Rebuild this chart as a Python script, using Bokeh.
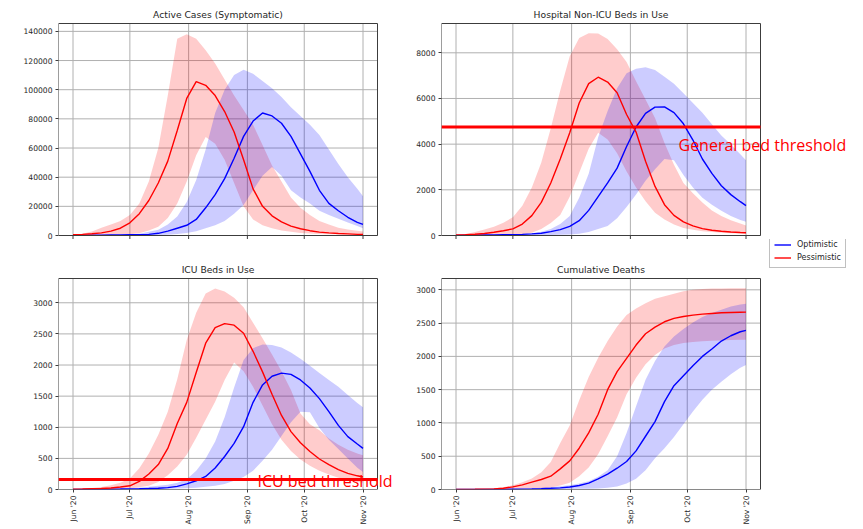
import math
import pandas as pd
from bokeh.plotting import figure
from bokeh.layouts import column, row
from bokeh.models import (Range1d, FixedTicker, DatetimeTickFormatter, BasicTickFormatter,
                          Label, Legend, LegendItem)
from bokeh.embed import file_html
from bokeh.resources import INLINE

# ---------------- data ----------------
start_date = "2020-06-01"
days = [0, 5, 10, 15, 20, 25, 30, 35, 40, 45, 50, 55, 60, 65, 70, 75, 80, 85, 90, 95,
        100, 105, 110, 115, 120, 125, 130, 135, 140, 145, 150, 153]

month_ticks = ["2020-06-01", "2020-07-01", "2020-08-01", "2020-09-01", "2020-10-01", "2020-11-01"]
month_labels = ["Jun '20", "Jul '20", "Aug '20", "Sep '20", "Oct '20", "Nov '20"]

# Active cases (symptomatic)
act_pes_med = [500, 800, 1200, 1800, 3000, 5000, 8700, 15000, 24000, 36000, 51000, 72000, 94000, 105500, 103000, 96000,
               85000, 71000, 52000, 32000, 20000, 13500, 9300, 6400, 4600, 3300, 2300, 1800, 1400, 1100, 800, 700]
act_pes_hi = [300, 1200, 2800, 5400, 7500, 10000, 14000, 22000, 37000, 60000, 96000, 135000, 138000, 135000, 127000, 118000,
              107000, 96000, 86000, 76000, 62000, 48000, 37000, 26000, 19000, 14000, 10000, 7500, 5300, 4200, 3300, 2800]
act_pes_lo = [0, 100, 200, 300, 400, 600, 800, 1500, 3500, 6000, 12000, 22000, 37000, 55000, 67500, 63000,
              52000, 36000, 20000, 11000, 7000, 5000, 3500, 2500, 1800, 1400, 1100, 900, 800, 700, 600, 500]
act_opt_med = [100, 100, 200, 200, 300, 400, 500, 600, 800, 1500, 3000, 5000, 7000, 11000, 19000, 28000,
               39000, 53000, 68000, 78500, 84000, 82000, 77000, 68000, 56000, 44000, 31000, 22000, 17000, 12500, 9000, 7600]
act_opt_hi = [100, 200, 300, 400, 500, 600, 700, 1200, 2500, 4000, 7600, 13000, 23000, 38000, 59000, 84000,
              100000, 110000, 113600, 111000, 106000, 101000, 95000, 88000, 82000, 76000, 69000, 59000, 49000, 40000, 32000, 27000]
act_opt_lo = [0, 0, 0, 0, 0, 100, 100, 200, 300, 400, 500, 1000, 1800, 3000, 5000, 7000,
              10000, 15000, 21000, 31000, 41000, 47000, 41000, 31000, 26000, 22000, 17000, 14000, 11500, 9000, 6500, 5000]

# Hospital non-ICU beds
hosp_pes_med = [20, 35, 55, 90, 140, 210, 290, 500, 870, 1450, 2300, 3350, 4500, 5800, 6650, 6930,
                6720, 6250, 5300, 4530, 3250, 2150, 1350, 880, 600, 420, 300, 230, 185, 155, 130, 120]
hosp_pes_hi = [20, 60, 150, 260, 380, 560, 800, 1300, 2100, 3200, 4700, 6350, 7850, 8650, 8860, 8840,
               8600, 8150, 7600, 6750, 5950, 5150, 4050, 3100, 2300, 1850, 1450, 1100, 850, 670, 520, 440]
hosp_pes_lo = [10, 15, 20, 25, 30, 30, 30, 60, 120, 280, 550, 900, 1700, 2750, 3800, 4500,
               4200, 3600, 2800, 2100, 1500, 1000, 700, 480, 330, 250, 190, 150, 120, 100, 90, 80]
hosp_opt_med = [5, 10, 15, 20, 25, 30, 35, 50, 70, 100, 170, 260, 400, 650, 1100, 1700,
                2300, 2950, 3900, 4750, 5350, 5620, 5630, 5380, 4890, 4180, 3350, 2720, 2180, 1790, 1480, 1310]
hosp_opt_hi = [5, 10, 15, 20, 25, 30, 35, 60, 100, 160, 280, 500, 850, 1650, 2700, 4300,
               5450, 6450, 7100, 7300, 7370, 7250, 6950, 6650, 6230, 5800, 5380, 4870, 4380, 3990, 3560, 3300]
hosp_opt_lo = [5, 5, 5, 5, 5, 5, 10, 10, 15, 20, 25, 30, 40, 80, 150, 280,
               420, 750, 1250, 1800, 2400, 2900, 3350, 3300, 2650, 2100, 1650, 1350, 1080, 850, 680, 600]

# ICU beds
icu_pes_med = [5, 8, 12, 16, 25, 40, 60, 130, 250, 400, 660, 1060, 1400, 1880, 2350, 2600,
               2665, 2640, 2510, 2220, 1890, 1530, 1190, 930, 750, 610, 490, 400, 320, 260, 220, 200]
icu_pes_hi = [10, 15, 25, 40, 70, 110, 175, 340, 580, 880, 1250, 1770, 2400, 2840, 3150, 3230,
              3180, 3080, 2930, 2680, 2430, 2170, 1900, 1600, 1220, 1050, 950, 820, 720, 640, 580, 550]
icu_pes_lo = [2, 3, 5, 8, 10, 12, 16, 35, 60, 120, 230, 370, 560, 830, 1120, 1410,
              1760, 2040, 1900, 1650, 1350, 1050, 800, 620, 480, 380, 300, 240, 190, 150, 120, 110]
icu_opt_med = [2, 2, 3, 4, 5, 7, 10, 12, 15, 20, 30, 50, 90, 140, 210, 345,
               530, 740, 1010, 1400, 1680, 1820, 1870, 1850, 1760, 1630, 1460, 1250, 1030, 850, 730, 660]
icu_opt_hi = [2, 3, 5, 7, 10, 15, 20, 30, 45, 60, 75, 110, 165, 300, 500, 770,
              1160, 1640, 2080, 2270, 2330, 2320, 2280, 2200, 2100, 1990, 1870, 1760, 1650, 1520, 1390, 1320]
icu_opt_lo = [0, 0, 1, 1, 2, 3, 4, 6, 8, 10, 13, 16, 20, 30, 45, 60,
              90, 140, 200, 300, 460, 640, 860, 1080, 1250, 1240, 990, 800, 650, 500, 350, 280]

# Cumulative deaths
dth_pes_med = [0, 1, 3, 6, 10, 18, 40, 70, 110, 150, 200, 310, 430, 620, 850, 1130,
               1500, 1770, 1970, 2170, 2340, 2440, 2520, 2570, 2600, 2620, 2635, 2645, 2655, 2660, 2663, 2665]
dth_pes_hi = [0, 2, 5, 10, 18, 35, 65, 110, 165, 260, 415, 700, 960, 1340, 1690, 1980,
              2230, 2450, 2620, 2720, 2800, 2865, 2905, 2940, 2980, 3000, 3012, 3018, 3020, 3022, 3024, 3025]
dth_pes_lo = [0, 0, 1, 2, 3, 5, 8, 10, 15, 20, 30, 60, 100, 200, 330, 530,
              800, 1080, 1430, 1680, 1880, 2020, 2120, 2170, 2200, 2215, 2228, 2235, 2240, 2245, 2248, 2250]
dth_opt_med = [0, 0, 0, 1, 1, 2, 4, 6, 9, 13, 18, 25, 38, 60, 95, 160,
               230, 320, 420, 580, 800, 1020, 1320, 1560, 1710, 1860, 2000, 2110, 2230, 2310, 2370, 2390]
dth_opt_hi = [0, 0, 1, 2, 3, 5, 8, 12, 17, 25, 35, 48, 65, 90, 125, 190,
              290, 500, 850, 1250, 1650, 1930, 2150, 2300, 2410, 2510, 2590, 2650, 2700, 2750, 2780, 2790]
dth_opt_lo = [0, 0, 0, 0, 0, 1, 1, 2, 3, 4, 5, 6, 8, 10, 13, 16,
              25, 45, 90, 160, 290, 470, 620, 790, 980, 1170, 1350, 1500, 1620, 1730, 1830, 1870]

act_ticks = [0, 20000, 40000, 60000, 80000, 100000, 120000, 140000]
hosp_ticks = [0, 2000, 4000, 6000, 8000]
icu_ticks = [0, 500, 1000, 1500, 2000, 2500, 3000]
dth_ticks = [0, 500, 1000, 1500, 2000, 2500, 3000]

general_bed_threshold = 4750
icu_bed_threshold = 160

# ---------------- layout / style constants ----------------
x = pd.to_datetime(start_date) + pd.to_timedelta(days, unit="D")
x_margin = pd.Timedelta(days=7.65)
x_start = x[0] - x_margin
x_end = x[-1] + x_margin
tick_dates = pd.to_datetime(month_ticks)
tick_ms = [int(t.value // 10**6) for t in tick_dates]

FONT = "DejaVu Sans"
TICK_SIZE = "7.6px"
TXT = "#262626"
GRID = "#b0b0b0"
EDGE = "#3c3c3c"
TICK_LEN = 3.5
LINE_W = 1.4


class Panel:
    """A figure whose frame reaches past the axes box, so that annotations that
    overhang the box (as in the reference) are not clipped. The visible axes box
    and its grid are drawn from the axis ranges."""

    def __init__(self, title, canvas, box, ymax, yticks, show_dates):
        cx0, cy0, cx1, cy1 = canvas
        bx0, by0, bx1, by1 = box
        self.box = box
        self.ymax = ymax
        self.dpp = (x_end - x_start) / (bx1 - bx0)        # time per pixel
        self.upp = ymax / (by1 - by0)                      # value per pixel
        frame_bottom = by1 if show_dates else cy1
        x_hi = x_start + (cx1 - bx0) * self.dpp
        y_hi = (by1 - cy0) * self.upp
        y_lo = -(frame_bottom - by1) * self.upp
        p = figure(width=cx1 - cx0, height=cy1 - cy0, x_axis_type="datetime",
                   x_range=Range1d(x_start, x_hi), y_range=Range1d(y_lo, y_hi),
                   output_backend="svg", toolbar_location=None,
                   min_border_left=bx0 - cx0, min_border_bottom=cy1 - frame_bottom,
                   min_border_right=0, min_border_top=0)
        p.outline_line_color = None
        p.background_fill_color = "white"
        p.border_fill_color = "white"
        p.xgrid.visible = False
        p.ygrid.visible = False

        p.yaxis.ticker = FixedTicker(ticks=yticks)
        p.yaxis.formatter = BasicTickFormatter(use_scientific=False)
        axes = [p.yaxis[0]]
        if show_dates:
            p.xaxis.ticker = FixedTicker(ticks=tick_ms)
            fmt = "%b '%y"
            p.xaxis.formatter = DatetimeTickFormatter(
                microseconds=fmt, milliseconds=fmt, seconds=fmt, minsec=fmt, minutes=fmt,
                hourmin=fmt, hours=fmt, days=fmt, months=fmt, years=fmt)
            p.xaxis.major_label_overrides = {t: lab for t, lab in zip(tick_ms, month_labels)}
            p.xaxis.major_label_orientation = math.pi / 2
            axes.append(p.xaxis[0])
        else:
            p.xaxis.visible = False
            # tick marks (no labels) under the axes box
            p.segment(x0=tick_dates, y0=[0] * len(tick_dates), x1=tick_dates,
                      y1=[-TICK_LEN * self.upp] * len(tick_dates), line_color=EDGE, line_width=1)
        for ax in axes:
            ax.axis_line_color = None
            ax.major_tick_line_color = EDGE
            ax.major_tick_out = 3
            ax.major_tick_in = 0
            ax.minor_tick_line_color = None
            ax.major_label_text_font = FONT
            ax.major_label_text_font_size = TICK_SIZE
            ax.major_label_text_color = TXT
            ax.major_label_standoff = 3

        # grid lines limited to the axes box
        p.segment(x0=tick_dates, y0=[0] * len(tick_dates), x1=tick_dates, y1=[ymax] * len(tick_dates),
                  line_color=GRID, line_width=1, level="underlay")
        p.segment(x0=[x_start] * len(yticks), y0=yticks, x1=[x_end] * len(yticks), y1=yticks,
                  line_color=GRID, line_width=1, level="underlay")
        self.p = p
        tx, ty = self.at((bx0 + bx1) / 2, by0 - 9)
        p.add_layout(Label(x=tx, y=ty, text=title, text_font=FONT, text_font_size="9.2px",
                           text_color=TXT, text_align="center", text_baseline="middle"))

    def at(self, sx, sy):
        """page pixel -> data coordinates of this panel"""
        bx0, by0, bx1, by1 = self.box
        return x_start + (sx - bx0) * self.dpp, (by1 - sy) * self.upp

    def draw(self, pes_lo, pes_hi, pes_med, opt_lo, opt_hi, opt_med):
        p = self.p
        p.varea(x=x, y1=pes_lo, y2=pes_hi, fill_color="red", fill_alpha=0.2)
        p.varea(x=x, y1=opt_lo, y2=opt_hi, fill_color="blue", fill_alpha=0.2)
        bl = p.line(x, opt_med, line_color="blue", line_width=LINE_W)
        rl = p.line(x, pes_med, line_color="red", line_width=LINE_W)
        return bl, rl

    def threshold(self, value, text, text_sx, text_sy):
        p = self.p
        p.segment(x0=[x_start], y0=[value], x1=[x_end], y1=[value], line_color="red", line_width=3)
        tx, ty = self.at(text_sx, text_sy)
        p.add_layout(Label(x=tx, y=ty, text=text, text_font="Open Sans", text_font_size="16px",
                           text_color="red", text_align="left", text_baseline="alphabetic"))

    def frame_box(self):
        self.p.quad(left=[x_start], right=[x_end], bottom=[0], top=[self.ymax],
                    fill_color=None, line_color=EDGE, line_width=1)


# canvas (x0, y0, x1, y1) and axes box (left, top, right, bottom) in page pixels
a = Panel("Active Cases (Symptomatic)", (0, 0, 400, 239), (58, 23, 377, 235), 145400, act_ticks, False)
a.draw(act_pes_lo, act_pes_hi, act_pes_med, act_opt_lo, act_opt_hi, act_opt_med)
a.frame_box()

b = Panel("Hospital Non-ICU Beds in Use", (400, 0, 856, 239), (441, 23, 760, 235), 9283, hosp_ticks, False)
b.draw(hosp_pes_lo, hosp_pes_hi, hosp_pes_med, hosp_opt_lo, hosp_opt_hi, hosp_opt_med)
b.frame_box()
b.threshold(general_bed_threshold, "General bed threshold", 678, 144)

c = Panel("ICU Beds in Use", (0, 239, 400, 527), (58, 278, 377, 489), 3390, icu_ticks, True)
c.draw(icu_pes_lo, icu_pes_hi, icu_pes_med, icu_opt_lo, icu_opt_hi, icu_opt_med)
c.frame_box()
c.threshold(icu_bed_threshold, "ICU bed threshold", 257, 480)

d = Panel("Cumulative Deaths", (400, 239, 856, 527), (441, 278, 760, 489), 3170, dth_ticks, True)
bl, rl = d.draw(dth_pes_lo, dth_pes_hi, dth_pes_med, dth_opt_lo, dth_opt_hi, dth_opt_med)
d.frame_box()

legend = Legend(items=[LegendItem(label="Optimistic", renderers=[bl]),
                       LegendItem(label="Pessimistic", renderers=[rl])],
                location=(769 - 441, 489 - 268), label_text_font=FONT, label_text_font_size="8px",
                label_text_color=TXT, glyph_width=17, glyph_height=11, label_height=11,
                label_standoff=6, spacing=2, padding=4, margin=0,
                border_line_color="#c0c0c0", border_line_width=1, border_line_alpha=1.0,
                background_fill_color="white", background_fill_alpha=0.8)
d.p.add_layout(legend)

layout = column(row(a.p, b.p), row(c.p, d.p))

with open("out.html", "w") as f:
    f.write(file_html(layout, INLINE))
